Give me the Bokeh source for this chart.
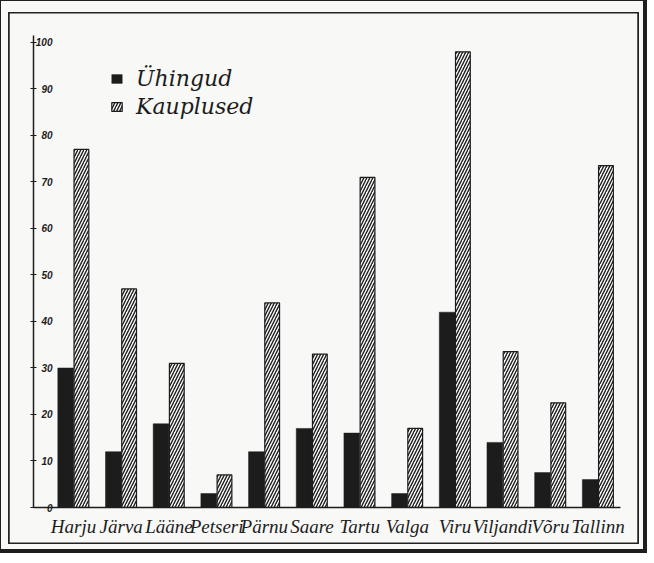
from bokeh.plotting import figure
from bokeh.models import FixedTicker, Legend, LegendItem
from bokeh.embed import file_html
from bokeh.resources import INLINE

# ---- data ----
counties = ["Harju", "Järva", "Lääne", "Petseri", "Pärnu", "Saare",
            "Tartu", "Valga", "Viru", "Viljandi", "Võru", "Tallinn"]
uhingud = [30, 12, 18, 3, 12, 17, 16, 3, 42, 14, 7.5, 6]
kauplused = [77, 47, 31, 7, 44, 33, 71, 17, 98, 33.5, 22.5, 73.5]
y_ticks = [0, 10, 20, 30, 40, 50, 60, 70, 80, 90, 100]
series_names = ["Ühingud", "Kauplused"]

PAPER = "#f8f8f6"
INK = "#1c1c1c"

xs = list(range(len(counties)))
x_u = [x - 0.165 for x in xs]
x_k = [x + 0.165 for x in xs]

p = figure(frame_width=587, frame_height=472,
           x_range=(-0.84, 11.47), y_range=(0, 101.5),
           output_backend="svg", toolbar_location=None,
           min_border_left=33, min_border_right=24,
           min_border_top=35, min_border_bottom=43,
           background_fill_color=PAPER, border_fill_alpha=0,
           outline_line_color=None)
p.styles = {"background-color": PAPER,
            "outline": "4px solid #1e1e1e", "outline-offset": "-1px",
            "box-shadow": ("inset 1.5px 0.5px 0 6.5px " + PAPER +
                           ", inset 1.5px 5.5px 0 6.5px " + PAPER +
                           ", inset 1.5px 0.5px 0 8px #222"
                           ", inset 1.5px 5.5px 0 8px #222")}

r_u = p.vbar(x=x_u, top=uhingud, width=0.33, bottom=0,
             fill_color=INK, line_color=INK, line_width=0.5)
r_k = p.vbar(x=x_k, top=kauplused, width=0.31, bottom=0,
             fill_color="white", line_color=INK, line_width=1.2,
             hatch_pattern="/", hatch_color=INK, hatch_weight=1.4,
             hatch_scale=6)

p.xgrid.visible = False
p.ygrid.visible = False

# x axis
xa = p.xaxis[0]
xa.ticker = FixedTicker(ticks=xs)
xa.major_label_overrides = {i: c for i, c in enumerate(counties)}
xa.major_tick_line_color = None
xa.minor_tick_line_color = None
xa.axis_line_color = INK
xa.axis_line_width = 1.5
xa.major_label_standoff = 2
xa.major_label_text_font = "Liberation Serif"
xa.major_label_text_font_style = "italic"
xa.major_label_text_font_size = "19px"
xa.major_label_text_color = INK

# y axis
ya = p.yaxis[0]
ya.ticker = FixedTicker(ticks=y_ticks)
ya.minor_tick_line_color = None
ya.major_tick_in = 3
ya.major_tick_out = 3
ya.major_tick_line_color = INK
ya.axis_line_color = INK
ya.axis_line_width = 1.5
ya.major_label_standoff = -22
ya.major_label_text_font = "Liberation Sans"
ya.major_label_text_font_style = "bold italic"
ya.major_label_text_font_size = "10px"
ya.major_label_text_color = INK

legend = Legend(items=[LegendItem(label=series_names[0], renderers=[r_u]),
                       LegendItem(label=series_names[1], renderers=[r_k])],
                location=(77, 388), padding=0, margin=0, spacing=3,
                glyph_width=13, glyph_height=11, label_height=22,
                label_standoff=13,
                label_text_font="DejaVu Serif", label_text_font_style="italic",
                label_text_font_size="22px", label_text_color=INK,
                border_line_color=None, background_fill_alpha=0)
p.add_layout(legend)

open("out.html", "w").write(file_html(p, INLINE))
